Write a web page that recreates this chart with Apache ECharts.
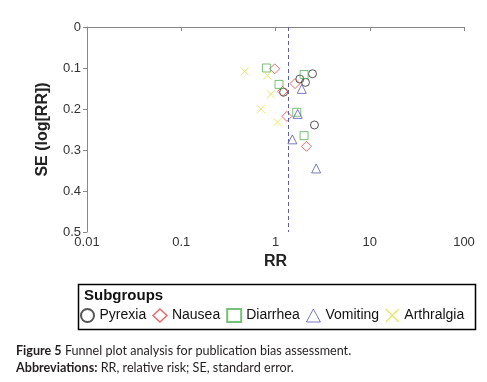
<!DOCTYPE html>
<html>
<head>
<meta charset="utf-8">
<script src="https://cdn.jsdelivr.net/npm/echarts@6/dist/echarts.min.js"></script>
<style>html,body{margin:0;padding:0;background:#fff}#c{width:487px;height:382px}</style>
</head>
<body>
<div id="c"></div>
<script>
const seriesNames = ['Pyrexia', 'Nausea', 'Diarrhea', 'Vomiting', 'Arthralgia'];
const pyrexia = [[2.47, 0.114], [1.81, 0.127], [2.08, 0.135], [1.22, 0.159], [2.59, 0.239]];
const nausea = [[0.98, 0.102], [1.61, 0.138], [1.19, 0.157], [1.32, 0.218], [2.13, 0.291]];
const diarrhea = [[0.80, 0.100], [2.01, 0.116], [1.09, 0.140], [1.68, 0.208], [2.01, 0.265]];
const vomiting = [[1.90, 0.151], [1.72, 0.212], [1.51, 0.274], [2.70, 0.345]];
const arthralgia = [[0.47, 0.108], [0.82, 0.118], [0.89, 0.164], [0.70, 0.200], [1.05, 0.232]];
const pooledRR = 1.36;
const yTicks = [0, 0.1, 0.2, 0.3, 0.4, 0.5];
const xTicks = [0.01, 0.1, 1, 10, 100];

const colors = ['#2a2a2a', '#e0464a', '#56b056', '#5a5aa6', '#e2e24a'];
const symbols = ['circle', 'diamond', 'rect', 'triangle', 'path://M0,0L10,10M0,10L10,0'];
const sizes = [8, 10, 8, 9, 8];
const datasets = [pyrexia, nausea, diarrhea, vomiting, arthralgia];
const legendWidths = [2, 1.5, 2, 1, 1.5];

const chart = echarts.init(document.getElementById('c'));
const series = seriesNames.map((n, i) => ({
  name: n,
  type: 'scatter',
  data: datasets[i],
  symbol: symbols[i],
  symbolSize: sizes[i],
  itemStyle: { color: 'rgba(0,0,0,0)', borderColor: colors[i], borderWidth: 1 },
  emphasis: { disabled: true },
  markLine: i === 0 ? {
    silent: true, symbol: 'none', label: { show: false },
    lineStyle: { type: [4, 3], color: '#6060a8', width: 1 },
    data: [{ xAxis: pooledRR }]
  } : undefined
}));

chart.setOption({
  animation: false,
  grid: { left: 87, right: 23, top: 27, bottom: 150 },
  xAxis: {
    type: 'log', logBase: 10, min: xTicks[0], max: xTicks[xTicks.length - 1],
    name: 'RR', nameLocation: 'middle', nameGap: 22,
    nameTextStyle: { fontFamily: 'Liberation Sans', fontWeight: 'bold', fontSize: 16, color: '#222' },
    axisLine: { lineStyle: { color: '#888' } },
    axisTick: { length: 4, lineStyle: { color: '#888' } },
    axisLabel: { fontFamily: 'Liberation Sans', fontSize: 13, color: '#333', margin: 4,
      formatter: v => String(v) },
    splitLine: { show: false }
  },
  yAxis: {
    type: 'value', inverse: true, min: yTicks[0], max: yTicks[yTicks.length - 1], interval: 0.1,
    name: 'SE (log[RR])', nameLocation: 'middle', nameGap: 36,
    nameTextStyle: { fontFamily: 'Liberation Sans', fontWeight: 'bold', fontSize: 16, color: '#222' },
    axisLine: { show: true, lineStyle: { color: '#888' } },
    axisTick: { show: true, length: 4, lineStyle: { color: '#888' } },
    axisLabel: { fontFamily: 'Liberation Sans', fontSize: 13, color: '#333', margin: 6,
      formatter: v => String(+v.toFixed(1)) },
    splitLine: { show: false }
  },
  legend: {
    left: 80, top: 308, width: 420, padding: 0, itemWidth: 14, itemHeight: 13, itemGap: 6,
    selectedMode: false,
    textStyle: { fontFamily: 'Liberation Sans', fontSize: 14, color: '#111' },
    data: seriesNames.map((n, i) => ({
      name: n, icon: symbols[i],
      itemStyle: { color: 'rgba(0,0,0,0)', borderColor: colors[i], borderWidth: legendWidths[i] }
    }))
  },
  graphic: [
    { type: 'rect', left: 76, top: 282, shape: { width: 397, height: 45 },
      style: { fill: 'none', stroke: '#000', lineWidth: 1.5 } },
    { type: 'text', left: 84, top: 288,
      style: { text: 'Subgroups', font: 'bold 15px "Liberation Sans"', fill: '#111' } },
    { type: 'text', left: 16, top: 344,
      style: { text: '{b|Figure 5} Funnel plot analysis for publication bias assessment.',
        font: '12.6px Lato', fill: '#231f20',
        rich: { b: { fontWeight: 'bold', fontFamily: 'Lato', fontSize: 12.6, fill: '#231f20' } } } },
    { type: 'text', left: 16, top: 361,
      style: { text: '{b|Abbreviations:} RR, relative risk; SE, standard error.',
        font: '12.6px Lato', fill: '#231f20',
        rich: { b: { fontWeight: 'bold', fontFamily: 'Lato', fontSize: 12.6, fill: '#231f20' } } } }
  ],
  series: series
});
</script>
</body>
</html>
